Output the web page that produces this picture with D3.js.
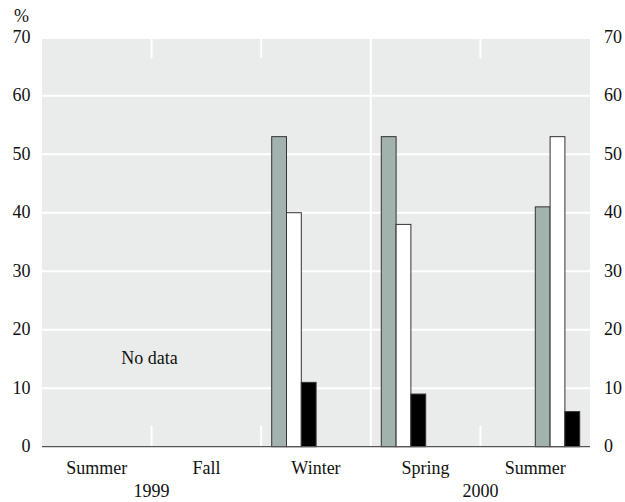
<!DOCTYPE html>
<html>
<head>
<meta charset="utf-8">
<script src="https://cdn.jsdelivr.net/npm/d3@7"></script>
<style>
  html, body { margin: 0; padding: 0; background: #fff; }
</style>
</head>
<body>
<svg id="chart" width="625" height="502" font-family="'Liberation Serif', 'DejaVu Serif', serif"></svg>
<script>
// ---- data ----
const seasons = ["Summer", "Fall", "Winter", "Spring", "Summer"];
const years = ["1999", "2000"];
const yearSpans = [[0, 1], [3, 4]];          // first/last season index of each year label
const seriesA = [null, null, 53, 53, 41];    // grey bars
const seriesB = [null, null, 40, 38, 53];    // white bars
const seriesC = [null, null, 11, 9, 6];      // black bars
const groupSlot = [0, 0, 0, 0, 1];           // which half of the season band holds the bars
const yTicks = [0, 10, 20, 30, 40, 50, 60, 70];
const noDataText = "No data";

// ---- layout ----
const FONT = "'Liberation Serif', 'DejaVu Serif', serif";
const svg = d3.select("#chart");
const left = 42, right = 590, plotTop = 39, bottom = 446.7;
const x = d3.scaleBand().domain(d3.range(seasons.length)).range([left, right]).paddingInner(0).paddingOuter(0);
const y = d3.scaleLinear().domain([0, 60]).range([bottom, 95.7]);

// background
svg.append("rect").attr("x", left).attr("y", plotTop).attr("width", right - left).attr("height", bottom - plotTop)
  .attr("fill", "#e9eceb");

// gridlines
svg.selectAll("line.grid").data(yTicks.filter(d => d > 0 && d < 70)).enter().append("line")
  .attr("x1", left).attr("x2", right).attr("y1", d => y(d)).attr("y2", d => y(d))
  .attr("stroke", "#fff").attr("stroke-width", 2);

// separators between seasons
d3.range(1, seasons.length).forEach(i => {
  const bx = x(i);
  if (i === 3) {
    svg.append("line").attr("x1", bx).attr("x2", bx).attr("y1", plotTop).attr("y2", bottom)
      .attr("stroke", "#fff").attr("stroke-width", 2);
  } else {
    svg.append("line").attr("x1", bx).attr("x2", bx).attr("y1", plotTop).attr("y2", plotTop + 19)
      .attr("stroke", "#fff").attr("stroke-width", 2);
    svg.append("line").attr("x1", bx).attr("x2", bx).attr("y1", bottom - 21).attr("y2", bottom)
      .attr("stroke", "#fff").attr("stroke-width", 2);
  }
});

// bars
const series = [
  { vals: seriesA, fill: "#a2b2ae" },
  { vals: seriesB, fill: "#ffffff" },
  { vals: seriesC, fill: "#000000" }
];
const bw = 14.8;
const startOff = 10.5;
series.forEach((s, si) => {
  svg.selectAll(null).data(s.vals.map((v, i) => ({ v, i })).filter(d => d.v !== null)).enter().append("rect")
    .attr("x", d => x(d.i) + startOff + (groupSlot[d.i] * 3 + si) * bw)
    .attr("y", d => y(d.v))
    .attr("width", bw)
    .attr("height", d => y(0) - y(d.v))
    .attr("fill", s.fill)
    .attr("stroke", "#333")
    .attr("stroke-width", 1);
});

// baseline axis
svg.append("line").attr("x1", left).attr("x2", right).attr("y1", bottom).attr("y2", bottom)
  .attr("stroke", "#555").attr("stroke-width", 1.2);

// text helper
const fs = 18;
function txt(sel) {
  return sel.attr("font-family", FONT).attr("font-size", fs).attr("fill", "#111");
}

// y tick labels left & right
txt(svg.selectAll("text.yl").data(yTicks).enter().append("text")
  .attr("x", 30.5).attr("y", d => y(d)).attr("dy", "0.32em").attr("text-anchor", "end")).text(d => d);
txt(svg.selectAll("text.yr").data(yTicks).enter().append("text")
  .attr("x", 604).attr("y", d => y(d)).attr("dy", "0.32em").attr("text-anchor", "start")).text(d => d);
txt(svg.append("text").attr("x", 14).attr("y", 22)).text("%");

// season labels
txt(svg.selectAll("text.season").data(seasons).enter().append("text")
  .attr("x", (d, i) => x(i) + x.bandwidth() / 2).attr("y", 474).attr("text-anchor", "middle")).text(d => d);

// year labels
txt(svg.selectAll("text.year").data(years).enter().append("text")
  .attr("x", (d, i) => (x(yearSpans[i][0]) + x(yearSpans[i][1]) + x.bandwidth()) / 2)
  .attr("y", 497).attr("text-anchor", "middle")).text(d => d);

// no data
txt(svg.append("text").attr("x", (x(0) + x(1) + x.bandwidth()) / 2 - 2).attr("y", 364)
  .attr("text-anchor", "middle")).text(noDataText);
</script>
</body>
</html>
